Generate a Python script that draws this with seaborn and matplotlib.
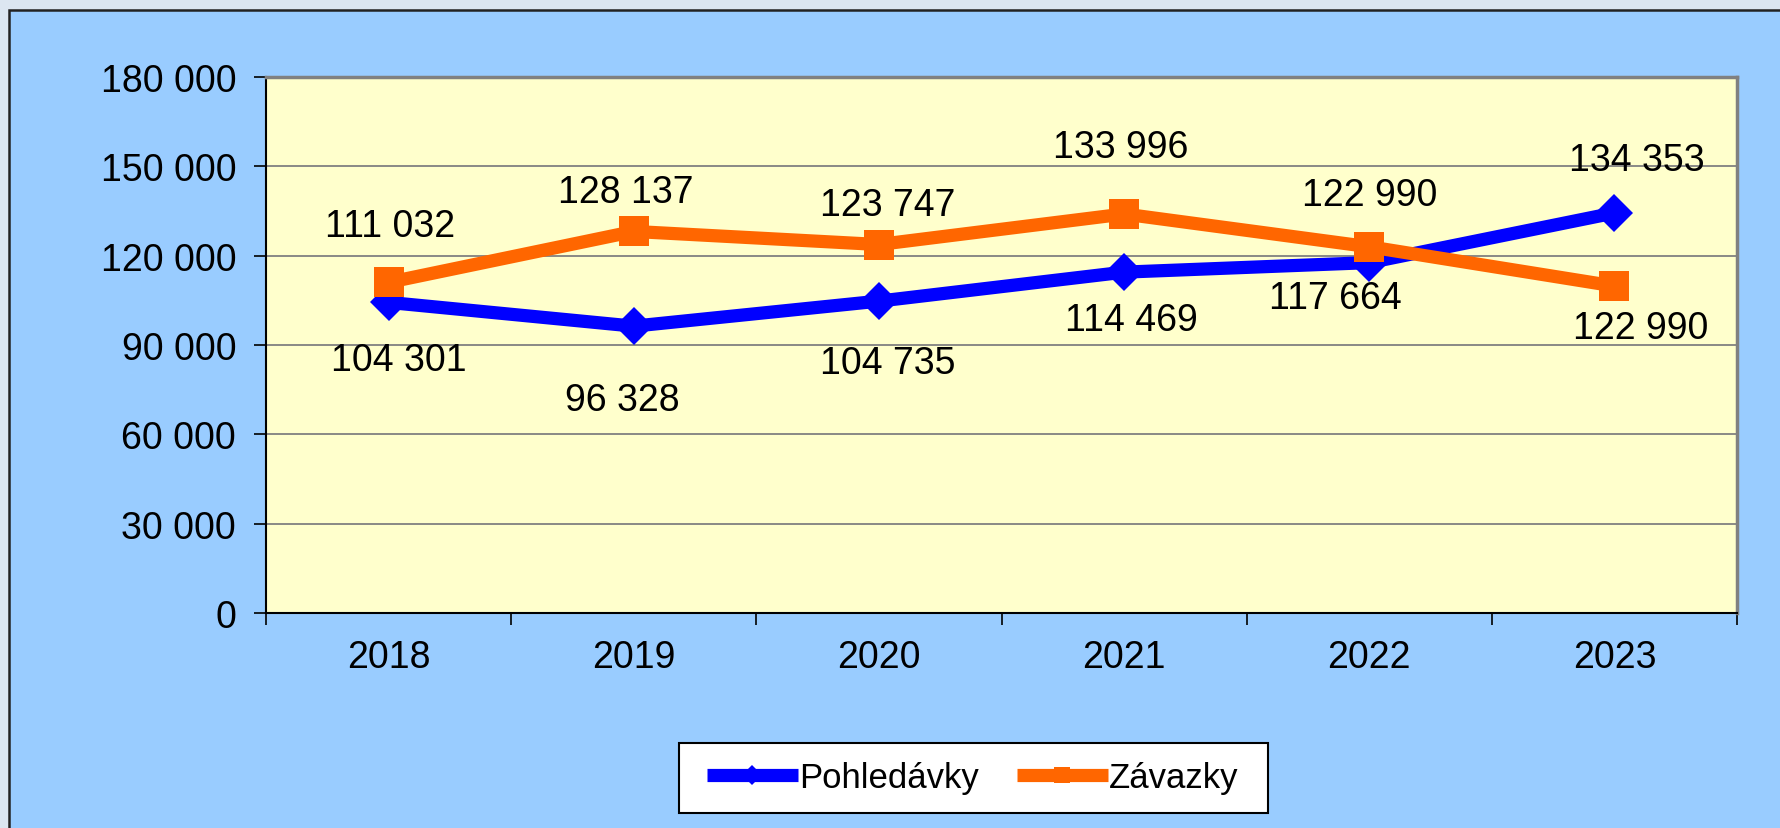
import matplotlib
matplotlib.use("Agg")
import matplotlib.pyplot as plt
from matplotlib.patches import Rectangle
from matplotlib.ticker import FuncFormatter, MultipleLocator, FixedLocator
import seaborn as sns
import pandas as pd

# data
years = [2018, 2019, 2020, 2021, 2022, 2023]
pohledavky = [104301, 96328, 104735, 114469, 117664, 134353]
zavazky = [111032, 128137, 123747, 133996, 122990, 109800]
# labels as printed in the chart (last Závazky label is printed as 122 990)
pohl_labels = ["104 301", "96 328", "104 735", "114 469", "117 664", "134 353"]
zav_labels = ["111 032", "128 137", "123 747", "133 996", "122 990", "122 990"]

# label offsets in pixels (dx, dy), hand placed like in the original
pohl_off = [(10, -58), (-11, -74), (9, -62), (7, -48), (-34, -35), (22, 53)]
zav_off = [(1, 56), (-8, 39), (9, 40), (-3, 67), (0, 52), (26, -42)]

sns.set_style("white")
plt.rcParams['font.family'] = ['Liberation Sans', 'DejaVu Sans']
plt.rcParams['text.color'] = 'black'
plt.rcParams['xtick.color'] = 'black'
plt.rcParams['ytick.color'] = 'black'
FS = 27

W, H = 1780, 829
fig = plt.figure(figsize=(W / 100, H / 100), dpi=100, facecolor="#DCE6F1")
fig.patches.append(Rectangle((9 / W, -0.1), 1.2, 1.1 - 11 / H, transform=fig.transFigure,
                             facecolor="#99CCFF", edgecolor="#222222", linewidth=1.8, zorder=-10))
# legend box
fig.patches.append(Rectangle((679 / W, 1 - 814 / H), (1268 - 679) / W, 70 / H, transform=fig.transFigure,
                             facecolor="white", edgecolor="black", linewidth=1.5, zorder=-5))

ax = fig.add_axes([266 / W, 1 - 614 / H, (1737 - 266) / W, (614 - 78) / H])
ax.set_zorder(1)
ax.set_facecolor("#FFFFCC")

d = pd.DataFrame({"Rok": years, "Pohledávky": pohledavky, "Závazky": zavazky})

sns.lineplot(data=d, x="Rok", y="Pohledávky", color="#0000FF", linewidth=9.5,
             marker="D", markersize=19, markeredgewidth=0, ax=ax, label="Pohledávky", zorder=3)
sns.lineplot(data=d, x="Rok", y="Závazky", color="#FF6600", linewidth=9.5,
             marker="s", markersize=22, markeredgewidth=0, ax=ax, label="Závazky", zorder=4)
for ln in ax.get_lines():
    ln.set_solid_capstyle("butt")

for x, y, t, o in zip(years, pohledavky, pohl_labels, pohl_off):
    ax.annotate(t, (x, y), xytext=o, textcoords="offset pixels", ha="center", va="center",
                fontsize=FS, color="black", zorder=5)
for x, y, t, o in zip(years, zavazky, zav_labels, zav_off):
    ax.annotate(t, (x, y), xytext=o, textcoords="offset pixels", ha="center", va="center",
                fontsize=FS, color="black", zorder=5)

ax.set_ylim(0, 180000)
ax.yaxis.set_major_locator(MultipleLocator(30000))
ax.yaxis.set_major_formatter(FuncFormatter(lambda v, p: f"{int(v):,}".replace(",", " ")))
ax.grid(axis="y", color="#808080", linewidth=1.3)
ax.grid(axis="x", visible=False)
ax.set_axisbelow(True)

ax.set_xlim(2017.5, 2023.5)
ax.set_xticks(years)
ax.set_xticklabels([str(y) for y in years])
ax.xaxis.set_minor_locator(FixedLocator([2017.5 + i for i in range(7)]))
ax.tick_params(axis="x", which="major", bottom=False, length=0, pad=19, labelsize=FS)
ax.tick_params(axis="x", which="minor", bottom=True, direction="out", length=8.5, width=1.2, color="black")
ax.tick_params(axis="y", left=True, direction="out", length=8.5, width=1.2, color="black", pad=13, labelsize=FS)
ax.set_xlabel("")
ax.set_ylabel("")

for s in ["left", "bottom"]:
    ax.spines[s].set_color("black")
    ax.spines[s].set_linewidth(1.5)
for s in ["top", "right"]:
    ax.spines[s].set_color("#808080")
    ax.spines[s].set_linewidth(2.5)

ax.get_legend().remove()
handles, labels = ax.get_legend_handles_labels()
leg = fig.legend(handles, labels, loc="center", bbox_to_anchor=(973 / W, 1 - 779 / H), ncol=2,
                 fontsize=25, frameon=False, handlelength=2.6, handletextpad=0.05,
                 columnspacing=1.1, markerscale=0.55)
for h in leg.legend_handles:
    h.set_solid_capstyle("butt")

fig.savefig("out.png", dpi=100, facecolor=fig.get_facecolor())
